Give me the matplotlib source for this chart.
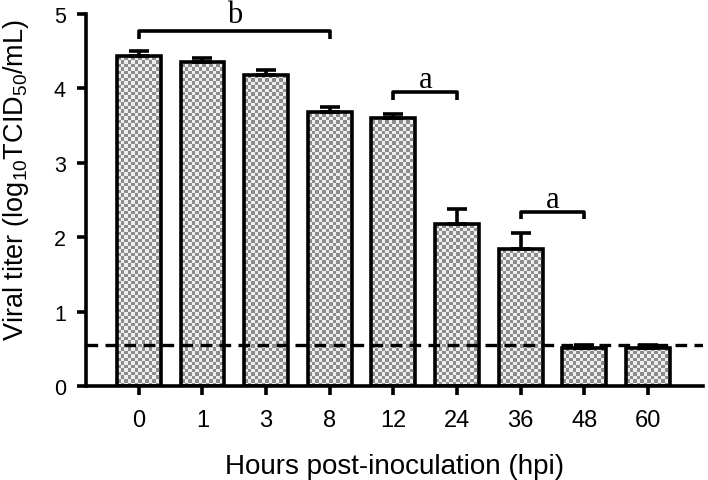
import numpy as np
import matplotlib
matplotlib.use('Agg')
import matplotlib.pyplot as plt
from matplotlib.colors import ListedColormap

# data
hours = ['0', '1', '3', '8', '12', '24', '36', '48', '60']
titer = [4.44, 4.35, 4.18, 3.68, 3.60, 2.18, 1.84, 0.51, 0.51]
sem = [0.06, 0.06, 0.07, 0.07, 0.06, 0.20, 0.21, 0.04, 0.04]
detect_limit = 0.55

# significance brackets: (start bar, end bar, height, label)
brackets = [(0, 3, 4.77, 'b'), (4, 5, 3.95, 'a'), (6, 7, 2.34, 'a')]

plt.rcParams['font.family'] = 'Liberation Sans'
plt.rcParams['mathtext.fontset'] = 'custom'
plt.rcParams['mathtext.rm'] = 'Liberation Sans'
plt.rcParams['mathtext.default'] = 'regular'

fig = plt.figure(figsize=(7.08, 4.81), dpi=100)
ax = fig.add_axes([0.1215, 0.1954, 0.871, 0.7734])

x = np.arange(len(hours))
w = 0.69
lw = 2.6

bars = ax.bar(x, titer, width=w, facecolor='none', edgecolor='k',
              linewidth=lw, zorder=3)

# checkerboard fill clipped to each bar
cmap = ListedColormap(['#eeeeee', '#8c8c8c'])
for b in bars:
    x0, y0 = b.get_x(), b.get_y()
    bw, bh = b.get_width(), b.get_height()
    nx = int(bw / 0.055) + 1
    ny = int(bh / 0.047) + 1
    ii, jj = np.indices((ny, nx))
    chk = (ii + jj) % 2
    im = ax.imshow(chk, cmap=cmap, extent=[x0, x0 + nx * 0.055, y0, y0 + ny * 0.047],
                   origin='lower', interpolation='nearest', aspect='auto', zorder=2)
    im.set_clip_path(b)

ax.errorbar(x, titer, yerr=[np.zeros(len(sem)), sem], fmt='none', ecolor='k',
            elinewidth=lw, capsize=7.5, capthick=lw, zorder=3)

ax.axhline(detect_limit, color='k', linestyle=(0, (3.5, 2.2)), linewidth=2.4, zorder=4)

for i0, i1, h, lab in brackets:
    ax.plot([x[i0], x[i0], x[i1], x[i1]], [h - 0.1, h, h, h - 0.1], color='k',
            linewidth=lw, solid_capstyle='butt', clip_on=False, zorder=4)
    off = 0.12 if lab == 'b' else 0.07
    ax.text((x[i0] + x[i1]) / 2, h + off, lab, ha='center', va='baseline',
            family='Liberation Serif', fontsize=22, clip_on=False)

ax.set_xlim(-0.83, 8.86)
ax.set_ylim(0, 5)
ax.set_xticks(x)
ax.set_xticklabels(hours)
ax.set_yticks([0, 1, 2, 3, 4, 5])

for s in ['top', 'right']:
    ax.spines[s].set_visible(False)
for s in ['left', 'bottom']:
    ax.spines[s].set_linewidth(lw)
ax.tick_params(width=lw, length=6.5)
ax.tick_params(axis='x', labelsize=17, pad=10)
ax.tick_params(axis='y', labelsize=15.5, pad=8)

ax.set_xlabel('Hours post-inoculation (hpi)', fontsize=20, labelpad=16)
ax.set_ylabel('Viral titer (log$_{10}$TCID$_{50}$/mL)', fontsize=19.5)
ax.yaxis.set_label_coords(-0.09, 0.556)

fig.savefig('out.png', dpi=100)
